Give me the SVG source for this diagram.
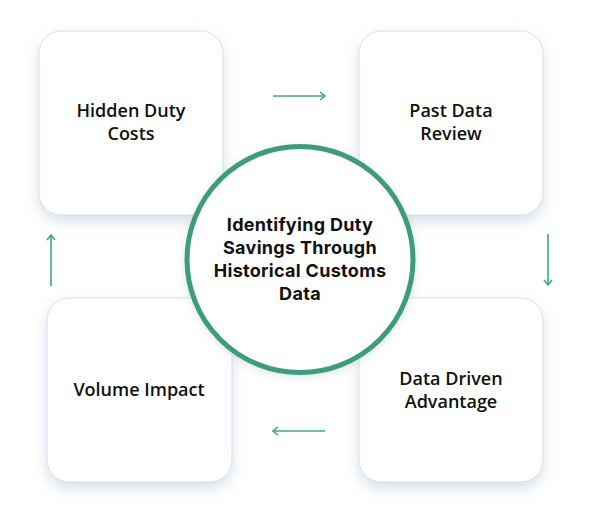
<svg xmlns="http://www.w3.org/2000/svg" width="598" height="514" viewBox="0 0 598 514">
<defs>
<filter id="sh" x="-20%" y="-20%" width="140%" height="150%">
<feDropShadow dx="0" dy="6" stdDeviation="7" flood-color="#8fa6bf" flood-opacity="0.35"/>
</filter>
<filter id="csh" x="-20%" y="-20%" width="140%" height="140%">
<feDropShadow dx="0" dy="2" stdDeviation="4" flood-color="#8fa6bf" flood-opacity="0.3"/>
</filter>
<marker id="ah" viewBox="0 0 10 10" refX="9" refY="5" markerWidth="10" markerHeight="10" markerUnits="userSpaceOnUse" orient="auto">
<path d="M4,1 L9,5 L4,9" fill="none" stroke="#3fa882" stroke-width="1.6"/>
</marker>
</defs>
<style>
.box{fill:#ffffff;stroke:#d3e2ec;stroke-width:1;filter:url(#sh)}
.bt{font-family:"Open Sans","Noto Sans",sans-serif;font-weight:600;font-size:18px;fill:#111111;text-anchor:middle}
.ct{font-family:Inter,"Liberation Sans",sans-serif;font-weight:700;font-size:18px;letter-spacing:0.3px;fill:#111111;text-anchor:middle}
.arr{stroke:#3fa882;stroke-width:1.6;fill:none;marker-end:url(#ah)}
</style>
<rect width="598" height="514" fill="#ffffff"/>
<g id="node-hidden">
<rect class="box" x="39" y="31" width="184" height="184" rx="22"/>
<text class="bt" x="131" y="117">Hidden Duty</text>
<text class="bt" x="131" y="140">Costs</text>
</g>
<g id="node-past">
<rect class="box" x="359" y="31" width="184" height="184" rx="22"/>
<text class="bt" x="451" y="117">Past Data</text>
<text class="bt" x="451" y="140">Review</text>
</g>
<g id="node-advantage">
<rect class="box" x="359" y="298" width="184" height="184" rx="22"/>
<text class="bt" x="451" y="385">Data Driven</text>
<text class="bt" x="451" y="408">Advantage</text>
</g>
<g id="node-volume">
<rect class="box" x="47" y="298" width="185" height="184" rx="22"/>
<text class="bt" x="139" y="396">Volume Impact</text>
</g>
<g id="connectors">
<line class="arr" x1="273" y1="96" x2="325" y2="96"/>
<line class="arr" x1="548" y1="234" x2="548" y2="285"/>
<line class="arr" x1="325" y1="431" x2="273" y2="431"/>
<line class="arr" x1="51" y1="286" x2="51" y2="235"/>
</g>
<g id="node-center">
<circle cx="300" cy="259.5" r="113" fill="#ffffff" stroke="#3d9c7a" stroke-width="5" filter="url(#csh)"/>
<text class="ct" x="300" y="231">Identifying Duty</text>
<text class="ct" x="300" y="254">Savings Through</text>
<text class="ct" x="300" y="277">Historical Customs</text>
<text class="ct" x="300" y="300">Data</text>
</g>
</svg>
